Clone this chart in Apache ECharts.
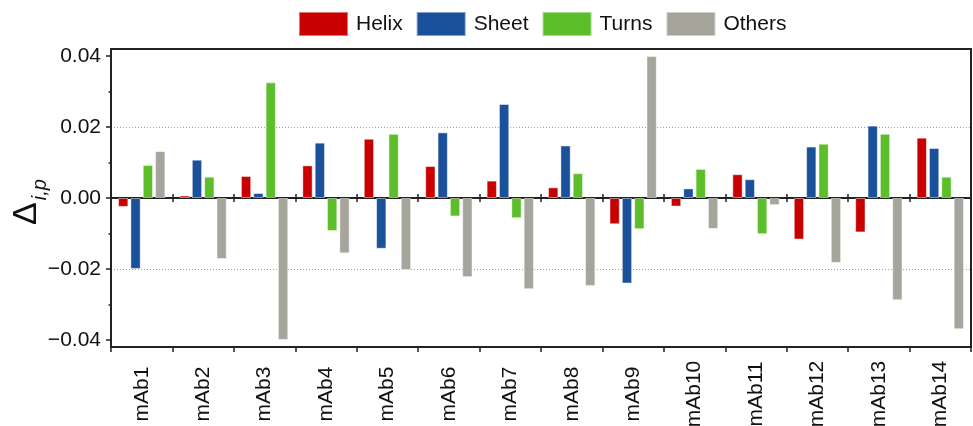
<!DOCTYPE html>
<html>
<head>
<meta charset="utf-8">
<script src="https://cdn.jsdelivr.net/npm/echarts@6/dist/echarts.min.js"></script>
<style>
  html, body { margin: 0; padding: 0; background: #fff; }
  #chart { width: 973px; height: 426px; }
</style>
</head>
<body>
<div id="chart"></div>
<script>
// Secondary-structure deviation per antibody
const categories = ['mAb1','mAb2','mAb3','mAb4','mAb5','mAb6','mAb7','mAb8','mAb9','mAb10','mAb11','mAb12','mAb13','mAb14'];
const helix  = [-0.0025, 0.0007, 0.0062, 0.0092, 0.0167, 0.0090, 0.0049, 0.0030, -0.0074, -0.0024, 0.0067, -0.0117, -0.0097, 0.0170];
const sheet  = [-0.0200, 0.0108, 0.0014, 0.0156, -0.0143, 0.0185, 0.0265, 0.0148, -0.0241, 0.0027, 0.0053, 0.0145, 0.0204, 0.0141];
const turns  = [0.0093, 0.0060, 0.0326, -0.0093, 0.0181, -0.0052, -0.0057, 0.0070, -0.0088, 0.0082, -0.0102, 0.0153, 0.0181, 0.0060];
const others = [0.0132, -0.0172, -0.0400, -0.0156, -0.0203, -0.0223, -0.0257, -0.0248, 0.0400, -0.0087, -0.0020, -0.0183, -0.0288, -0.0370];
const majorTicks = [-0.04, -0.02, 0, 0.02, 0.04];
const minorTicks = [-0.03, -0.01, 0.01, 0.03];

const FONT = '"Liberation Sans", Arial, Helvetica, sans-serif';
const colors = { Helix: '#C80000', Sheet: '#1A519A', Turns: '#5CBE2B', Others: '#A6A59B' };

function fmt(v) {
  const s = Math.abs(v).toFixed(2);
  return v < 0 ? '\u2212' + s : s;
}

function barSeries(name, data) {
  return {
    name: name,
    type: 'bar',
    data: data,
    xAxisIndex: 0,
    yAxisIndex: 0,
    barGap: '20%',
    barCategoryGap: '23%',
    itemStyle: { color: colors[name], borderColor: 'rgba(255,255,255,0.45)', borderWidth: 1 },
    emphasis: { disabled: true }
  };
}

const chart = echarts.init(document.getElementById('chart'), null, { renderer: 'canvas' });
chart.setOption({
  animation: false,
  textStyle: { fontFamily: FONT },
  legend: {
    left: 298,
    top: 11,
    padding: 0,
    itemWidth: 49,
    itemHeight: 24,
    itemGap: 13,
    icon: 'rect',
    textStyle: { fontSize: 21, color: '#111', fontFamily: FONT, padding: [0, 0, 0, 3] },
    data: ['Helix', 'Sheet', 'Turns', 'Others']
  },
  grid: {
    left: 111, right: 2, top: 49, bottom: 79,
    outerBoundsMode: 'none',
    containLabel: false,
    show: true, borderColor: '#222', borderWidth: 2, backgroundColor: 'transparent'
  },
  // Y-axis title (Greek delta with italic subscript), drawn upright along the left edge
  graphic: [
    {
      type: 'text',
      x: 27,
      y: 202,
      rotation: Math.PI / 2,
      silent: true,
      style: {
        text: '{d|\u0394}{s|i,p}',
        align: 'center',
        verticalAlign: 'middle',
        rich: {
          d: { fontSize: 34, fontFamily: FONT, fill: '#111', color: '#111', lineHeight: 46 },
          s: { fontSize: 20, fontStyle: 'italic', fontFamily: FONT, fill: '#111', color: '#111',
               lineHeight: 46, verticalAlign: 'bottom', padding: [0, 0, 0, 2] }
        }
      }
    }
  ],
  xAxis: [
    {
      type: 'category',
      data: categories,
      position: 'bottom',
      axisLine: { onZero: false, lineStyle: { color: '#222', width: 2 } },
      axisTick: { show: true, length: 5, lineStyle: { color: '#222', width: 1.5 } },
      axisLabel: {
        rotate: 90, margin: 47, align: 'center', verticalAlign: 'middle',
        fontSize: 21, color: '#111', fontFamily: FONT, interval: 0
      },
      splitLine: { show: false }
    },
    {
      type: 'category',
      data: categories,
      position: 'bottom',
      axisLine: { onZero: true, onZeroAxisIndex: 0, lineStyle: { color: '#222', width: 2 } },
      axisTick: { show: true, length: 4, lineStyle: { color: '#222', width: 1.5 } },
      axisLabel: { show: false },
      splitLine: { show: false }
    },
    {
      type: 'category',
      data: categories,
      position: 'top',
      axisLine: { onZero: true, onZeroAxisIndex: 0, lineStyle: { color: '#222', width: 2 } },
      axisTick: { show: true, length: 4, lineStyle: { color: '#222', width: 1.5 } },
      axisLabel: { show: false },
      splitLine: { show: false }
    }
  ],
  yAxis: [
    {
      type: 'value',
      min: -0.042,
      max: 0.042,
      splitNumber: 4,
      position: 'left',
      axisLine: { show: true, lineStyle: { color: '#222', width: 2 } },
      axisTick: { show: true, length: 5, customValues: majorTicks, lineStyle: { color: '#222', width: 1.5 } },
      axisLabel: {
        customValues: majorTicks, formatter: fmt, margin: 10,
        fontSize: 21, color: '#111', fontFamily: FONT
      },
      splitLine: {
        show: true, showMinLine: false, showMaxLine: false,
        lineStyle: { color: '#a0a0a0', type: [1, 2], width: 1 }
      }
    },
    {
      type: 'value',
      min: -0.042,
      max: 0.042,
      splitNumber: 4,
      position: 'left',
      axisLine: { show: false },
      axisTick: { show: true, length: 2.5, customValues: minorTicks, lineStyle: { color: '#222', width: 1.5 } },
      axisLabel: { show: false },
      splitLine: { show: false }
    }
  ],
  series: [
    barSeries('Helix', helix),
    barSeries('Sheet', sheet),
    barSeries('Turns', turns),
    barSeries('Others', others)
  ]
});
</script>
</body>
</html>
